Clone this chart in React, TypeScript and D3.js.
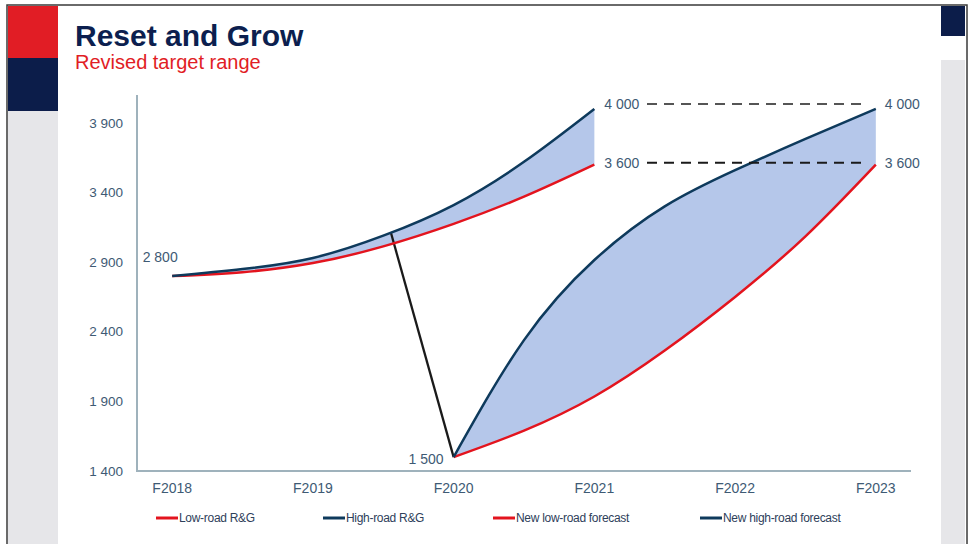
import React from "react";
import * as d3 from "d3";

// ---- data ----
const xTickYears = [2018, 2019, 2020, 2021, 2022, 2023];
const xTickLabels = ["F2018", "F2019", "F2020", "F2021", "F2022", "F2023"];
const yTicks = [1400, 1900, 2400, 2900, 3400, 3900];

const rgYears = [2018, 2018.5, 2019, 2019.5, 2020, 2020.5, 2021];
const lowRoadRG = [2800, 2828, 2893, 3013, 3175, 3370, 3600];
const highRoadRG = [2800, 2850, 2930, 3090, 3310, 3620, 4000];

const forecastYears = [2020, 2020.5, 2021, 2021.5, 2022, 2022.5, 2023];
const newLowRoad = [1500, 1690, 1935, 2265, 2650, 3085, 3600];
const newHighRoad = [1500, 2340, 2915, 3300, 3560, 3785, 4000];

const dropFrom = { year: 2019.553, value: 3116 };
const dropTo = { year: 2020, value: 1500 };

const targetValues = [4000, 3600];
const legendLabels = ["Low-road R&G", "High-road R&G", "New low-road forecast", "New high-road forecast"];

// ---- style ----
const RED = "#e3141e";
const NAVY = "#0e3a5c";
const FILL = "#b5c7ea";
const TICK = "#3e5a74";
const AXIS = "#9fb2bc";
const FONT = "'Liberation Sans', Arial, sans-serif";

const fmt = (v: number) => d3.format(",")(v).replace(",", " ");

export default function App() {
  const x = d3.scaleLinear().domain([2017.75, 2023.25]).range([137, 911]);
  const y = d3.scaleLinear().domain([1400, 4100]).range([471, 95]);
  const curve = d3.curveNatural;

  const line = d3
    .line<[number, number]>()
    .x((d) => x(d[0]))
    .y((d) => y(d[1]))
    .curve(curve);

  const area = d3
    .area<[number, number, number]>()
    .x((d) => x(d[0]))
    .y0((d) => y(d[1]))
    .y1((d) => y(d[2]))
    .curve(curve);

  const rgLow = rgYears.map((t, i) => [t, lowRoadRG[i]] as [number, number]);
  const rgHigh = rgYears.map((t, i) => [t, highRoadRG[i]] as [number, number]);
  const fcLow = forecastYears.map((t, i) => [t, newLowRoad[i]] as [number, number]);
  const fcHigh = forecastYears.map((t, i) => [t, newHighRoad[i]] as [number, number]);
  const rgBand = rgYears.map((t, i) => [t, lowRoadRG[i], highRoadRG[i]] as [number, number, number]);
  const fcBand = forecastYears.map((t, i) => [t, newLowRoad[i], newHighRoad[i]] as [number, number, number]);

  const legendX = [156, 323, 493, 700];
  const legendColors = [RED, NAVY, RED, NAVY];
  const labelOffsets = [-5, -2];

  return (
    <svg
      width={970}
      height={544}
      style={{ position: "absolute", left: 0, top: 0, background: "#fff" }}
      fontFamily={FONT}
    >
      {/* slide frame */}
      <rect x={7} y={5} width={960} height={545} fill="#fff" stroke="#3a3a3a" strokeWidth={1.5} />
      <rect x={8} y={6} width={50} height={52} fill="#e11d25" />
      <rect x={8} y={58} width={50} height={53} fill="#0c1d4a" />
      <rect x={8} y={111} width={50} height={440} fill="#e6e6e9" />
      <rect x={941} y={6} width={24} height={30} fill="#0c1d4a" />
      <rect x={941} y={60} width={24} height={490} fill="#e6e6e9" />

      <text x={75} y={46} fontSize={30} fontWeight="bold" fill="#0c1f4f">
        Reset and Grow
      </text>
      <text x={75} y={69} fontSize={20} fill="#e11d25">
        Revised target range
      </text>

      {/* bands */}
      <path d={area(rgBand) || ""} fill={FILL} />
      <path d={area(fcBand) || ""} fill={FILL} />

      {/* axes */}
      <line x1={137} x2={137} y1={95} y2={y(1400)} stroke={AXIS} strokeWidth={2} />
      <line x1={136} x2={911} y1={y(1400)} y2={y(1400)} stroke={AXIS} strokeWidth={2} />
      {yTicks.map((v) => (
        <text key={v} x={123} y={y(v)} dy="0.35em" textAnchor="end" fontSize={13.5} fill={TICK}>
          {fmt(v)}
        </text>
      ))}
      {xTickYears.map((t, i) => (
        <text key={t} x={x(t)} y={493} textAnchor="middle" fontSize={14} fill={TICK}>
          {xTickLabels[i]}
        </text>
      ))}

      {/* drop line */}
      <line
        x1={x(dropFrom.year)}
        y1={y(dropFrom.value)}
        x2={x(dropTo.year)}
        y2={y(dropTo.value)}
        stroke="#1a1a1a"
        strokeWidth={2.3}
      />

      {/* series */}
      <path d={line(rgLow) || ""} fill="none" stroke={RED} strokeWidth={2.5} />
      <path d={line(fcLow) || ""} fill="none" stroke={RED} strokeWidth={2.5} />
      <path d={line(rgHigh) || ""} fill="none" stroke={NAVY} strokeWidth={2.5} />
      <path d={line(fcHigh) || ""} fill="none" stroke={NAVY} strokeWidth={2.5} />

      {/* target dashed lines + labels */}
      {targetValues.map((v, i) => (
        <g key={v}>
          <line
            x1={647}
            x2={868}
            y1={y(v) + labelOffsets[i]}
            y2={y(v) + labelOffsets[i]}
            stroke={i === 0 ? "#555" : "#1a1a1a"}
            strokeWidth={2}
            strokeDasharray="10 7"
          />
          <text x={x(2021) + 10} y={y(v) + labelOffsets[i]} dy="0.35em" fontSize={14} fill={TICK}>
            {fmt(v)}
          </text>
          <text x={x(2023) + 9} y={y(v) + labelOffsets[i]} dy="0.35em" fontSize={14} fill={TICK}>
            {fmt(v)}
          </text>
        </g>
      ))}

      <text x={x(2018) - 12} y={y(2800) - 19} dy="0.35em" textAnchor="middle" fontSize={14} fill={TICK}>
        {fmt(2800)}
      </text>
      <text x={x(2020) - 10} y={y(1500) + 2} dy="0.35em" textAnchor="end" fontSize={14} fill={TICK}>
        {fmt(1500)}
      </text>

      {/* legend */}
      {legendLabels.map((lab, i) => (
        <g key={lab}>
          <line x1={legendX[i]} x2={legendX[i] + 22} y1={518} y2={518} stroke={legendColors[i]} strokeWidth={3} />
          <text x={legendX[i] + 23} y={518} dy="0.35em" fontSize={12} fill="#2e405a" letterSpacing={-0.3}>
            {lab}
          </text>
        </g>
      ))}
    </svg>
  );
}
